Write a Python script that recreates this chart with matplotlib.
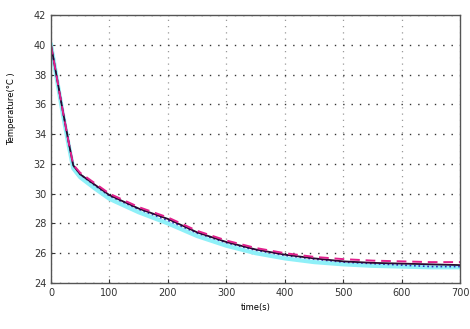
# temperature decay curves, MATLAB-like look
import numpy as np
import matplotlib.pyplot as plt

# DATA
t = [0, 10, 20, 30, 38, 50, 75, 100, 150, 200, 250, 300, 350, 400, 450, 500, 550, 600, 650, 700]
T_black = [40.0, 37.8, 35.6, 33.5, 31.9, 31.3, 30.6, 29.9, 29.0, 28.3, 27.4, 26.75, 26.25, 25.9, 25.65, 25.45, 25.35, 25.3, 25.25, 25.2]
T_magenta = [40.0, 37.8, 35.6, 33.5, 31.95, 31.4, 30.7, 30.0, 29.1, 28.4, 27.5, 26.85, 26.35, 26.0, 25.75, 25.6, 25.5, 25.45, 25.4, 25.4]
T_cyan = [40.0, 37.7, 35.4, 33.3, 31.7, 31.1, 30.35, 29.65, 28.75, 28.0, 27.15, 26.5, 26.0, 25.65, 25.4, 25.25, 25.15, 25.1, 25.05, 25.05]
T_blue = [40.0, 37.8, 35.6, 33.5, 31.9, 31.3, 30.55, 29.85, 28.95, 28.2, 27.35, 26.7, 26.2, 25.85, 25.6, 25.4, 25.3, 25.2, 25.1, 25.1]

xticks = list(range(0, 701, 100))
yticks = list(range(24, 43, 2))

# PLOT
fig = plt.figure(figsize=(4.7, 3.29), dpi=100)
ax = fig.add_axes([0.1085, 0.140, 0.871, 0.814])

ax.plot(t, T_cyan, color="#8ff0f8", lw=3.0)
ax.plot(t, T_blue, color="#3030c0", lw=1.2, ls=":")
ax.plot(t, T_black, color="#2a0a30", lw=1.3)
ax.plot(t, T_magenta, color="#e0208c", lw=1.4, ls=(0, (5, 3)))

ax.set_xlim(0, 700)
ax.set_ylim(24, 42)
ax.set_xticks(xticks)
ax.set_yticks(yticks)
ax.tick_params(direction="in", labelsize=7, length=3, colors="#333333")
ax.grid(True, axis="y", ls=(0, (1, 5)), color="#333333", lw=1.0)
ax.grid(True, axis="x", ls=(0, (1, 4)), color="#999999", lw=0.9)
for s in ax.spines.values():
    s.set_color("#555555")
    s.set_linewidth(1.0)

ax.set_xlabel("time(s)", fontsize=6, labelpad=4)
ax.set_ylabel("Temperature(°C )", fontsize=6)
ax.yaxis.set_label_coords(-0.085, 0.65)

plt.savefig("out.png", dpi=100)
